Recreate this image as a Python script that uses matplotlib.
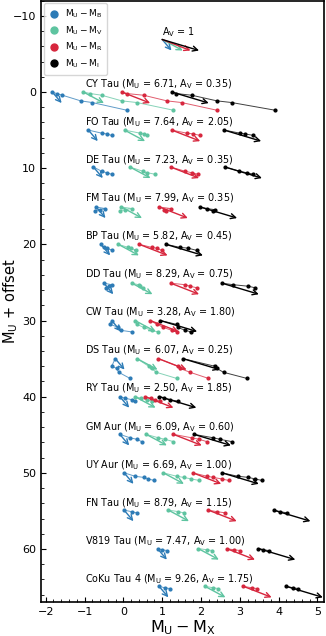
import numpy as np
import matplotlib.pyplot as plt
from matplotlib.ticker import AutoMinorLocator

# stars, U magnitude and extinction
names = ['CY Tau', 'FO Tau', 'DE Tau', 'FM Tau', 'BP Tau', 'DD Tau', 'CW Tau',
         'DS Tau', 'RY Tau', 'GM Aur', 'UY Aur', 'FN Tau', 'V819 Tau', 'CoKu Tau 4']
mu_u = [6.71, 7.64, 7.23, 7.99, 5.82, 8.29, 3.28, 6.07, 2.50, 6.09, 6.69, 8.79, 7.47, 9.26]
a_v = [0.35, 2.05, 0.35, 0.35, 0.45, 0.75, 1.80, 0.25, 1.85, 0.60, 1.00, 1.15, 1.00, 1.75]
offsets = [5 * i for i in range(len(names))]

# M_U relative to brightest epoch (before offset)
dmu = [
    [0.0, 0.2, 0.42, 1.16, 1.38, 2.39],
    [0.0, 0.4, 0.5, 0.7],
    [-0.15, 0.4, 0.6, 0.8],
    [0.1, 0.3, 0.45, 0.6],
    [0.0, 0.4, 0.5, 0.8],
    [0.1, 0.3, 0.5, 0.7],
    [0.0, 0.5, 0.9, 1.3, 1.5],
    [0.0, 1.0, 1.3, 1.8, 2.6],
    [0.0, 0.2, 0.4, 0.6],
    [-0.05, 0.4, 0.6, 0.9],
    [0.0, 0.45, 0.6, 0.8, 1.0],
    [-0.1, 0.1, 0.25],
    [-0.05, 0.1, 0.2],
    [-0.1, 0.1, 0.2],
]

# colours M_U - M_X for X = B, V, R, I
col_b = [
    [-1.83, -1.72, -1.57, -1.10, -0.80, 0.09],
    [-0.90, -0.56, -0.43, -0.30],
    [-0.77, -0.56, -0.43, -0.30],
    [-0.70, -0.47, -0.60, -0.73],
    [-0.58, -0.50, -0.43, -0.28],
    [-0.50, -0.30, -0.38, -0.45],
    [-0.30, -0.34, -0.13, -0.05, 0.22],
    [-0.21, -0.30, -0.17, -0.12, 0.17],
    [-0.09, 0.04, 0.22, 0.30],
    [-0.09, 0.17, 0.35, 0.47],
    [0.02, 0.30, 0.52, 0.64, 0.79],
    [0.02, 0.21, 0.34],
    [0.88, 0.99, 1.12],
    [0.92, 1.07, 1.20],
]
col_v = [
    [-1.03, -0.85, -0.56, -0.04, 0.35, 1.29],
    [0.03, 0.43, 0.52, 0.62],
    [0.17, 0.50, 0.62, 0.82],
    [-0.05, 0.22, 0.04, -0.09],
    [-0.13, 0.12, 0.20, 0.33],
    [0.22, 0.39, 0.43, 0.50],
    [0.30, 0.35, 0.52, 0.73, 0.90],
    [0.35, 0.65, 0.73, 0.85, 1.37],
    [0.30, 0.45, 0.60, 0.73],
    [0.59, 0.90, 1.07, 1.29],
    [1.03, 1.37, 1.55, 1.75, 1.95],
    [1.16, 1.42, 1.55],
    [1.93, 2.15, 2.28],
    [2.10, 2.32, 2.45],
]
col_r = [
    [-0.04, 0.09, 0.52, 1.12, 1.50, 2.41],
    [1.25, 1.63, 1.80, 1.98],
    [1.22, 1.59, 1.76, 1.93],
    [0.93, 1.22, 1.04, 1.10],
    [0.41, 0.73, 0.86, 0.99],
    [1.22, 1.59, 1.72, 1.89],
    [0.69, 0.86, 1.03, 1.25, 1.37],
    [0.90, 1.40, 1.46, 1.72, 2.19],
    [0.56, 0.70, 0.82, 0.95],
    [1.29, 1.76, 1.95, 2.15],
    [1.79, 2.15, 2.32, 2.53, 2.71],
    [2.19, 2.41, 2.62],
    [2.66, 2.84, 3.01],
    [3.09, 3.31, 3.44],
]
col_i = [
    [1.25, 1.36, 1.76, 2.41, 2.79, 3.91],
    [2.60, 3.00, 3.14, 3.35],
    [2.62, 2.99, 3.18, 3.35],
    [1.98, 2.15, 2.36, 2.32],
    [1.10, 1.46, 1.67, 1.89],
    [2.54, 2.83, 3.22, 3.39],
    [0.95, 1.37, 1.40, 1.60, 1.75],
    [1.53, 2.35, 2.41, 2.58, 3.18],
    [0.93, 1.05, 1.20, 1.42],
    [1.82, 2.32, 2.49, 2.79],
    [2.54, 2.95, 3.22, 3.39, 3.57],
    [3.87, 4.04, 4.21],
    [3.48, 3.61, 3.74],
    [4.19, 4.38, 4.51],
]

# reddening vector for A_V = 1: shift in (M_U - M_X) and in M_U
red_dx = [0.24, 0.53, 0.73, 0.95]
red_dy = 1.45

bands = ['B', 'V', 'R', 'I']
colors = ['#2c7bb6', '#5ec4a0', '#d7263d', 'black']
all_cols = [col_b, col_v, col_r, col_i]

fig = plt.figure(figsize=(3.26, 6.36), dpi=100)
ax = fig.add_axes([0.126, 0.053, 0.868, 0.946])

arrow_kw = dict(arrowstyle='->', lw=1.0, shrinkA=0, shrinkB=0, mutation_scale=9)

for k in range(len(names)):
    y = np.array(dmu[k]) + offsets[k]
    for j in range(4):
        x = np.array(all_cols[j][k])
        ax.plot(x, y, '-', color=colors[j], lw=0.7, alpha=0.75)
        ax.plot(x, y, 'o', color=colors[j], ms=2.0)
        ax.annotate('', xy=(x[0] + red_dx[j], y[0] + red_dy), xytext=(x[0], y[0]),
                    arrowprops=dict(color=colors[j], **arrow_kw))
    ax.text(-1.0, offsets[k] - 1.05,
            names[k] + r' ($\mathrm{M_U}$ = %.2f, $\mathrm{A_V}$ = %.2f)' % (mu_u[k], a_v[k]),
            fontsize=6.9, va='center', ha='left')

# A_V = 1 key
key_x, key_y = 1.0, -6.9
for j in range(4):
    ax.annotate('', xy=(key_x + red_dx[j], key_y + red_dy), xytext=(key_x, key_y),
                arrowprops=dict(color=colors[j], **arrow_kw))
ax.text(key_x, key_y - 1.0, r'$\mathrm{A_V}$ = 1', fontsize=6.9, va='center', ha='left')

for j in range(4):
    ax.plot([], [], 'o', color=colors[j], ms=5, label=r'$\mathrm{M_U - M_%s}$' % bands[j])
ax.legend(loc='upper left', fontsize=6.5, handletextpad=0.6, borderpad=0.5,
          labelspacing=0.45, borderaxespad=0.3, handlelength=1.2)

ax.set_xlim(-2.12, 5.17)
ax.set_ylim(67.0, -12.0)
ax.xaxis.set_minor_locator(AutoMinorLocator())
ax.yaxis.set_minor_locator(AutoMinorLocator())
ax.tick_params(which='both', direction='in', labelsize=8)
ax.tick_params(which='major', length=3.5)
ax.tick_params(which='minor', length=2)
ax.set_xlabel(r'$\mathrm{M_U - M_X}$', fontsize=11.5, labelpad=1)
ax.set_ylabel(r'$\mathrm{M_U}$ + offset', fontsize=10.5)
ax.yaxis.set_label_coords(-0.075, 0.5)
for s in ax.spines.values():
    s.set_linewidth(1.2)

fig.savefig('out.png', dpi=100)
